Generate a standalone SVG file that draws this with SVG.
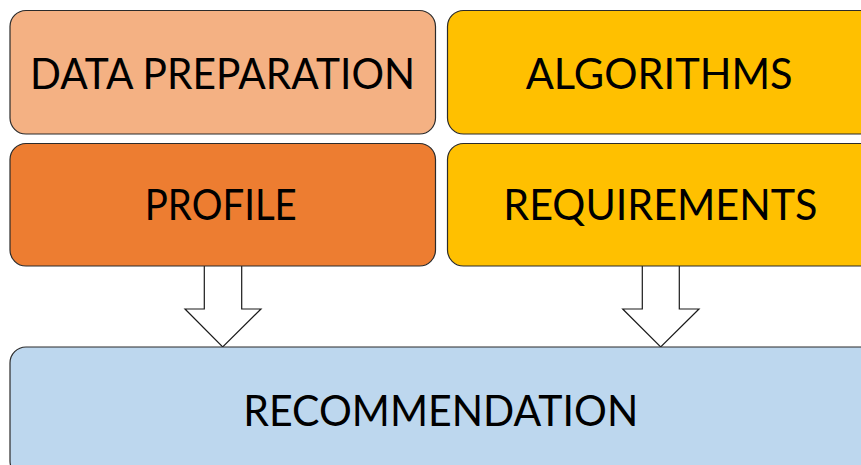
<svg xmlns="http://www.w3.org/2000/svg" width="861" height="465" viewBox="0 0 861 465">
<style>
.box{stroke:#2b2b2b;stroke-width:1.2}
.lbl{font-family:Lato,"Liberation Sans",Arial,sans-serif;font-size:43px;fill:#000;text-anchor:middle}
.arrow{fill:#fff;stroke:#1a1a1a;stroke-width:1.2;stroke-linejoin:miter}
</style>
<rect width="861" height="465" fill="#fff"/>
<g id="connectors">
<polygon class="arrow" points="204.3,262 241.7,262 241.7,309 261,309 222.7,347 185,309 204.3,309"/>
<polygon class="arrow" points="642.3,262 679.3,262 679.3,309 699,309 660.7,347 622.7,309 642.3,309"/>
</g>
<g id="data-preparation">
<rect class="box" x="10" y="10.5" width="425.5" height="123.5" rx="16" fill="#F4B183"/>
<text class="lbl" x="222.5" y="89" textLength="385" lengthAdjust="spacingAndGlyphs">DATA PREPARATION</text>
</g>
<g id="algorithms">
<rect class="box" x="447.5" y="10.5" width="430" height="123.5" rx="16" fill="#FFC000"/>
<text class="lbl" x="659.2" y="89" textLength="267" lengthAdjust="spacingAndGlyphs">ALGORITHMS</text>
</g>
<g id="profile">
<rect class="box" x="10" y="143.5" width="425.5" height="122.5" rx="16" fill="#ED7D31"/>
<text class="lbl" x="220.8" y="219.5" textLength="152" lengthAdjust="spacingAndGlyphs">PROFILE</text>
</g>
<g id="requirements">
<rect class="box" x="447.5" y="143.5" width="430" height="122.5" rx="16" fill="#FFC000"/>
<text class="lbl" x="660.3" y="219.5" textLength="314" lengthAdjust="spacingAndGlyphs">REQUIREMENTS</text>
</g>
<g id="recommendation">
<rect class="box" x="10" y="347" width="870" height="130" rx="16" fill="#BDD7EE"/>
<text class="lbl" x="440.8" y="426" textLength="395" lengthAdjust="spacingAndGlyphs">RECOMMENDATION</text>
</g>
</svg>
